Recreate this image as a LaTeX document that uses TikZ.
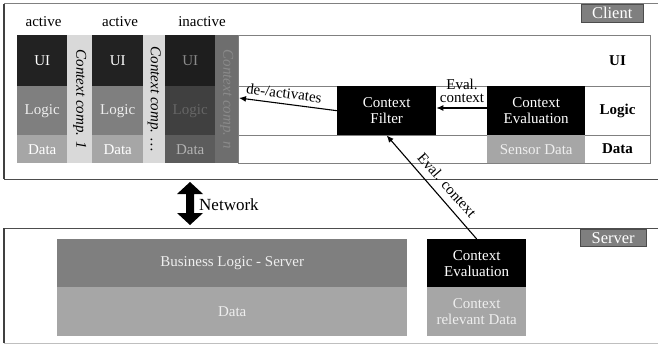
\documentclass[tikz,border=0pt]{standalone}
\usepackage{fontspec}
\setmainfont{Liberation Serif}
\usetikzlibrary{arrows.meta}

\definecolor{uidark}{HTML}{222222}
\definecolor{logicgray}{HTML}{7F7F7F}
\definecolor{datagray}{HTML}{A6A6A6}
\definecolor{stripgray}{HTML}{D9D9D9}
\definecolor{offui}{HTML}{1E1E1E}
\definecolor{offlogic}{HTML}{404040}
\definecolor{offdata}{HTML}{5C5C5C}
\definecolor{offstrip}{HTML}{6E6E6E}
\definecolor{offtext}{HTML}{8A8A8A}
\definecolor{frameline}{HTML}{808080}
\definecolor{paletext}{HTML}{EEEEEE}

\newcommand\bodyfs{\fontsize{15}{16}\selectfont}
\newcommand\tagfs{\fontsize{16.5}{18}\selectfont}

\begin{document}
\begin{tikzpicture}[x=1pt,y=-1pt,
  cell/.style={rectangle, inner sep=0pt, anchor=north west, align=center, font=\bodyfs},
  stripbox/.style={cell, fill=stripgray},
  striptext/.style={rotate=-90, font=\bodyfs\itshape, inner sep=0pt},
  plain/.style={inner sep=0pt, font=\bodyfs, align=center},
  rowtag/.style={inner sep=0pt, font=\bodyfs\bfseries},
  tagbox/.style={rectangle, inner sep=0pt, anchor=north west, fill=logicgray, draw=black!70,
                 text=white, font=\tagfs},
  arr/.style={line width=1.1pt, -{Latex[length=7pt,width=6pt]}}]

\useasboundingbox (0,0) rectangle (658,345);

% ---------- client frame ----------
\draw[frameline, line width=1pt] (4,4) -- (670,4);
\draw[frameline!60!black, line width=1pt] (4,179) -- (670,179);
\draw[black!75, line width=1.5pt] (4,4) -- (4,179);
\node[tagbox, minimum width=62, minimum height=18] (clienttag) at (581,4) {Client};

% ---------- component columns ----------
\node[plain] (lab1) at (43.5,22) {active};
\node[plain] (lab2) at (120,22) {active};
\node[plain] (lab3) at (202,22) {inactive};

% component 1
\node[cell, fill=uidark, text=white, minimum width=50, minimum height=51] (ui1) at (17,35) {UI};
\node[cell, fill=logicgray, text=paletext, minimum width=50, minimum height=49] (lo1) at (17,86) {Logic};
\node[cell, fill=datagray, text=white, minimum width=50, minimum height=28] (da1) at (17,135) {Data};
\node[stripbox, minimum width=25, minimum height=128] (cc1) at (67,35) {};
\node[striptext] (cc1t) at (cc1.center) {Context comp. 1};

% component 2
\node[cell, fill=uidark, text=white, minimum width=51, minimum height=51] (ui2) at (92,35) {UI};
\node[cell, fill=logicgray, text=paletext, minimum width=51, minimum height=49] (lo2) at (92,86) {Logic};
\node[cell, fill=datagray, text=white, minimum width=51, minimum height=28] (da2) at (92,135) {Data};
\node[stripbox, minimum width=22, minimum height=128] (cc2) at (143,35) {};
\node[striptext] (cc2t) at (cc2.center) {Context comp. \ldots};

% component n (inactive)
\node[cell, fill=offui, text=offtext, minimum width=50, minimum height=51] (ui3) at (165,35) {UI};
\node[cell, fill=offlogic, text=black!60, minimum width=50, minimum height=49] (lo3) at (165,86) {Logic};
\node[cell, fill=offdata, text=black!30, minimum width=50, minimum height=28] (da3) at (165,135) {Data};
\node[cell, fill=offstrip, minimum width=23, minimum height=128] (cc3) at (215,35) {};
\node[striptext, text=offtext] (cc3t) at (cc3.center) {Context comp. \textit{n}};

% ---------- context layer ----------
\node[cell, draw=frameline, line width=0.8pt, minimum width=412, minimum height=128] (ctx) at (238,35) {};
\draw[frameline, line width=0.8pt] (238,86) -- (650,86);
\draw[frameline, line width=0.8pt] (238,135) -- (650,135);

\node[cell, fill=black, text=white, minimum width=99, minimum height=49] (filter) at (337,86) {Context\\Filter};
\node[cell, fill=black, text=white, minimum width=98, minimum height=49] (ceval) at (487,86) {Context\\Evaluation};
\node[cell, fill=datagray, text=paletext, minimum width=98, minimum height=28] (sensor) at (487,135) {Sensor Data};

\node[rowtag] (tagui) at (617.5,60.5) {UI};
\node[rowtag] (taglogic) at (617.5,110.5) {Logic};
\node[rowtag] (tagdata) at (617.5,149) {Data};

\coordinate (deact) at (239,98);
\draw[arr] (filter.west) -- (deact);
\node[plain, rotate=-7.3] (deactlab) at (284,93) {de-/activates};

\draw[arr] (ceval.west |- 0,108) -- (filter.east |- 0,108);
\node[plain, font=\bodyfs\linespread{0.85}\selectfont] (evallab) at (462,91) {Eval.\\context};

% ---------- network ----------
\fill[black] (190,182) -- (203,194) -- (194,194) -- (194,213) -- (203,213) -- (190,225)
  -- (177,213) -- (186,213) -- (186,194) -- (177,194) -- cycle;
\node[inner sep=0pt, anchor=west, font=\fontsize{17}{18}\selectfont] (net) at (199,205) {Network};

% ---------- server frame ----------
\draw[frameline!60!black, line width=1pt] (4,228) -- (670,228);
\draw[black!25, line width=1pt] (4,343) -- (670,343);
\draw[black!75, line width=1.5pt] (4,228) -- (4,343);
\node[tagbox, minimum width=66, minimum height=17] (servertag) at (580,229) {Server};

\node[cell, fill=logicgray, text=paletext, minimum width=350, minimum height=48] (blserver) at (57,239) {Business Logic - Server};
\node[cell, fill=datagray, text=paletext, minimum width=350, minimum height=49] (sdata) at (57,287) {Data};
\node[cell, fill=black, text=white, minimum width=99, minimum height=48] (sce) at (427,239) {Context\\Evaluation};
\node[cell, fill=datagray, text=paletext, minimum width=99, minimum height=49] (crd) at (427,287) {Context\\relevant Data};

\draw[arr] (sce.north) -- (filter.south);
\node[plain, rotate=-48.6] (evallab2) at (447,185) {Eval. context};

\end{tikzpicture}
\end{document}
